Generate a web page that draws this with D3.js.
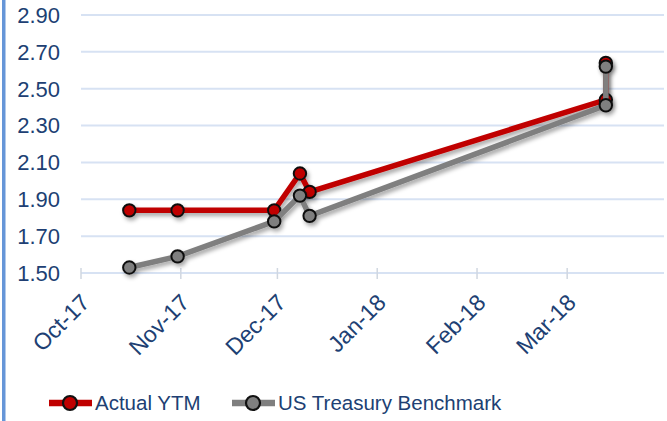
<!DOCTYPE html>
<html>
<head>
<meta charset="utf-8">
<script src="https://cdn.jsdelivr.net/npm/d3@7"></script>
<style>
	body{margin:0;background:#fff;}
	svg{display:block;font-family:"Liberation Sans",Arial,sans-serif;}
	.t_axis{fill:#203f73;font-size:22px;}
	.t_xaxis{fill:#203f73;font-size:23px;}
	.t_leg{fill:#203f73;font-size:20.5px;}
	.grid line{stroke:#d7e2f3;stroke-width:2;}
</style>
</head>
<body>
<svg width="667" height="421"></svg>
<script>
/* ----------------------------------------------------------
data
---------------------------------------------------------- */
var dates = ["2017-10-16","2017-10-31","2017-11-30","2017-12-08","2017-12-11","2018-03-13","2018-03-13"];
var actualYTM = [1.84,1.84,1.84,2.04,1.94,2.44,2.64];
var benchmark = [1.53,1.59,1.78,1.92,1.81,2.41,2.62];
var yTicks = [1.50,1.70,1.90,2.10,2.30,2.50,2.70,2.90];
var xTicks = ["2017-10-01","2017-11-01","2017-12-01","2018-01-01","2018-02-01","2018-03-01"];
var seriesNames = ["Actual YTM","US Treasury Benchmark"];
var colors = ["#c00000","#7f7f7f"];

/* ----------------------------------------------------------
setting
---------------------------------------------------------- */
var parse = d3.timeParse("%Y-%m-%d");
var svg = d3.select("svg");

var defs = svg.append("defs");
var f = defs.append("filter").attr("id","shadow").attr("x","-20%").attr("y","-20%").attr("width","150%").attr("height","150%");
f.append("feDropShadow").attr("dx",2).attr("dy",3).attr("stdDeviation",2).attr("flood-color","#000").attr("flood-opacity",0.35);

var x = d3.scaleTime().domain([parse("2017-10-01"), parse("2018-04-01")]).range([81, 667]);
var y = d3.scaleLinear().domain([1.5, 2.9]).range([273, 15]);

// left border
svg.append("rect").attr("x",2).attr("y",0).attr("width",3.5).attr("height",421).style("fill","#6696d8");

// grid
var grid = svg.append("g").attr("class","grid");
grid.selectAll("line").data(yTicks).enter().append("line")
	.attr("x1",81).attr("x2",664)
	.attr("y1",function(d){return y(d);}).attr("y2",function(d){return y(d);});

// x tick marks
svg.append("g").selectAll("line").data(xTicks).enter().append("line")
	.attr("x1",function(d){return x(parse(d));}).attr("x2",function(d){return x(parse(d));})
	.attr("y1",268).attr("y2",279)
	.style("stroke","#d0d7e0").style("stroke-width",1.5);

// y labels
svg.append("g").selectAll("text").data(yTicks).enter().append("text")
	.attr("class","t_axis")
	.attr("x",60).attr("y",function(d){return y(d);})
	.attr("dy","0.36em").style("text-anchor","end")
	.text(function(d){return d3.format(".2f")(d);});

// x labels
var fmt = d3.timeFormat("%b-%y");
svg.append("g").selectAll("text").data(xTicks).enter().append("text")
	.attr("class","t_xaxis")
	.attr("transform",function(d){return "translate(" + (x(parse(d)) + 10) + ",304) rotate(-45)";})
	.style("text-anchor","end")
	.text(function(d){return fmt(parse(d));});

/* ----------------------------------------------------------
lines
---------------------------------------------------------- */
var line = d3.line()
	.x(function(d){return x(parse(d[0]));})
	.y(function(d){return y(d[1]);});

var allSeries = [actualYTM, benchmark];
allSeries.forEach(function(vals, s){
	var pts = dates.map(function(d,i){return [d, vals[i]];});
	var g = svg.append("g").attr("filter","url(#shadow)");
	g.append("path").attr("d", line(pts))
		.style("fill","none").style("stroke",colors[s]).style("stroke-width",5.5);
	g.selectAll("circle").data(pts).enter().append("circle")
		.attr("cx",function(d){return x(parse(d[0]));})
		.attr("cy",function(d){return y(d[1]);})
		.attr("r",6.2)
		.style("fill",colors[s]).style("stroke","#111").style("stroke-width",2);
});

/* ----------------------------------------------------------
legend
---------------------------------------------------------- */
var legX = [49, 232];
var gLegend = svg.append("g");
var legs = gLegend.selectAll(".legends").data(seriesNames).enter().append("g")
	.attr("transform",function(d,i){return "translate(" + legX[i] + ",403)";});
legs.append("line").attr("x1",0).attr("x2",43).attr("y1",0).attr("y2",0)
	.style("stroke",function(d,i){return colors[i];}).style("stroke-width",6.5);
legs.append("circle").attr("cx",21).attr("cy",0).attr("r",7)
	.style("fill",function(d,i){return colors[i];}).style("stroke","#111").style("stroke-width",2.2);
legs.append("text").attr("class","t_leg").attr("x",46).attr("dy","0.36em")
	.text(function(d){return d;});
</script>
</body>
</html>
